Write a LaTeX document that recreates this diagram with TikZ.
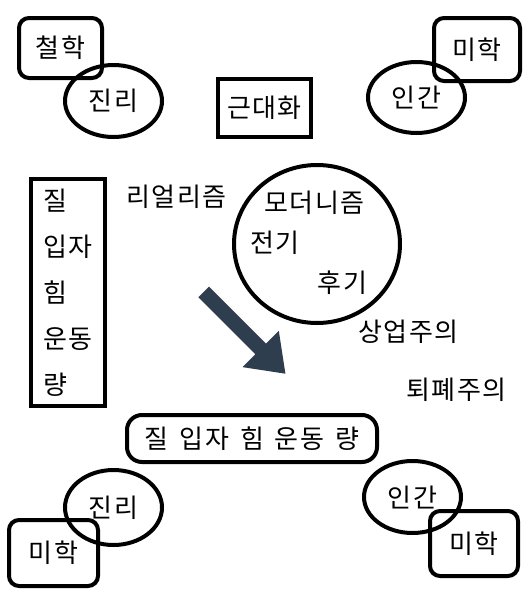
\documentclass[tikz,border=0pt]{standalone}
\usepackage{fontspec}
\setmainfont{Noto Sans CJK KR}[LetterSpace=6]
\usetikzlibrary{shapes.geometric}
\definecolor{slate}{RGB}{46,62,79}
\begin{document}
\begin{tikzpicture}[x=1pt, y=-1pt,
roundbox/.style={rectangle, rounded corners=10pt, draw=black, line width=4pt, inner sep=0pt},
ovalnode/.style={ellipse, draw=black, line width=4pt, inner sep=0pt},
squarednode/.style={rectangle, draw=black, line width=4pt, inner sep=0pt},
plaintext/.style={inner sep=0pt},
every node/.style={font=\fontsize{26}{30}\selectfont},
]
\useasboundingbox (0,0) rectangle (531,603);
%Boxes
\node[roundbox, minimum width=83pt, minimum height=60pt] at (60.5,48) (phil)   {철학};
\node[roundbox, minimum width=86pt, minimum height=63pt] at (477,49.5) (aesA)  {미학};
\node[roundbox, minimum width=89pt, minimum height=66pt] at (53.5,553) (aesB)  {미학};
\node[roundbox, minimum width=88pt, minimum height=65pt] at (474,543.5) (aesC) {미학};
%Ovals
\node[ovalnode, minimum width=97pt, minimum height=72pt] at (113.5,101) (truthA)  {진리};
\node[ovalnode, minimum width=97pt, minimum height=71pt] at (416.5,97.5) (humanA) {인간};
\node[ovalnode, minimum width=97pt, minimum height=75pt] at (113.5,507.5) (truthB) {진리};
\node[ovalnode, minimum width=97pt, minimum height=72pt] at (412.5,497) (humanB)  {인간};
\node[ovalnode, minimum width=166pt, minimum height=158pt] at (317,244) (modern) {};
%Square boxes
\node[squarednode, minimum width=93pt, minimum height=58pt] at (264.5,108) (modernize) {근대화};
\node[squarednode, minimum width=74pt, minimum height=227pt, inner xsep=10pt, align=left,
      font=\fontsize{26}{46}\selectfont] at (68,292.5) (physics)
      {질\\입자\\힘\\운동\\량};
\node[roundbox, rounded corners=15pt, minimum width=250pt, minimum height=47pt] at (252,438.5) (physrow)
      {\spaceskip=11pt 질 입자 힘 운동 량};
%Texts
\node[plaintext] at (176.5,197) (realism)  {리얼리즘};
\node[plaintext] at (314.5,203) (modernism) {모더니즘};
\node[plaintext] at (275,243) (early)     {전기};
\node[plaintext] at (342.5,283) (late)    {후기};
\node[plaintext] at (408.5,332) (commerce) {상업주의};
\node[plaintext] at (456.5,390) (decadence) {퇴폐주의};
%Arrow
\fill[slate] (198.4,297.3) -- (209,286.7) -- (265.9,343.6) -- (278.8,330.7)
    -- (285.4,373.7) -- (242.4,367.1) -- (255.3,354.2) -- cycle;
\end{tikzpicture}
\end{document}
